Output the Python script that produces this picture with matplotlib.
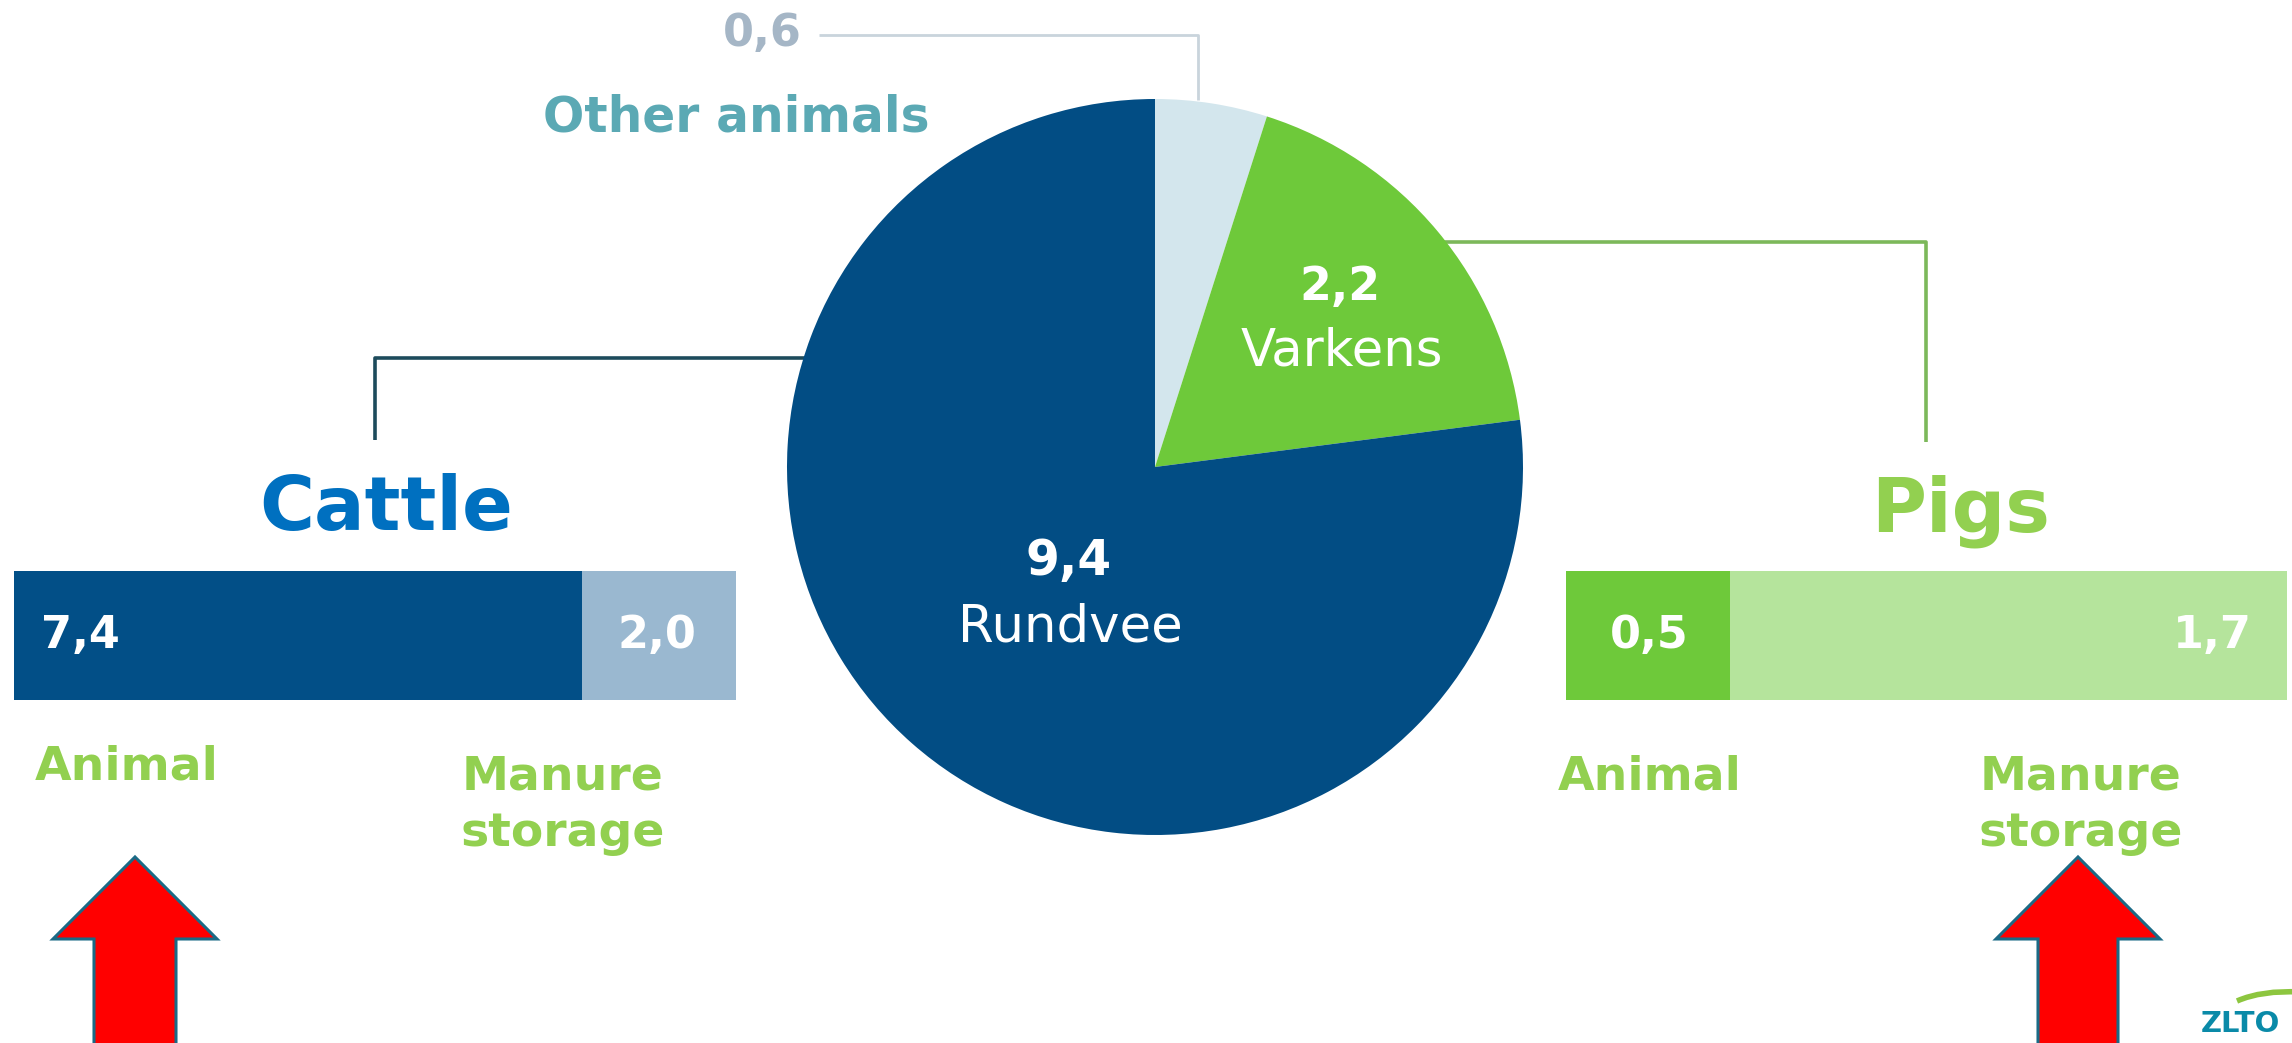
import matplotlib
matplotlib.use("Agg")
import matplotlib.pyplot as plt
from matplotlib.patches import Polygon, PathPatch
from matplotlib.path import Path

# ---------------- data ----------------
pie_names = ["Other animals", "Varkens", "Rundvee"]
pie_values = [0.6, 2.2, 9.4]
bar_categories = ["Animal", "Manure storage"]
cattle_values = [7.4, 2.0]
pigs_values = [0.5, 1.7]
group_titles = ["Cattle", "Pigs"]

W, H = 2292, 1043
DPI = 100

def fmt(v):
    return f"{v:.1f}".replace(".", ",")

def box(x0, y0, x1, y1):
    return [x0 / W, 1 - y1 / H, (x1 - x0) / W, (y1 - y0) / H]

fig = plt.figure(figsize=(W / DPI, H / DPI), dpi=DPI)
fig.patch.set_facecolor("white")

# background axes in pixel coordinates for connectors / annotations
bg = fig.add_axes([0, 0, 1, 1])
bg.set_xlim(0, W)
bg.set_ylim(H, 0)
bg.axis("off")

# connector lines
bg.plot([819, 1198, 1198], [35, 35, 100], color="#c9d4dc", lw=2.0, solid_capstyle="butt")
bg.plot([1440, 1926, 1926], [242, 242, 442], color="#7cb85a", lw=2.6, solid_capstyle="butt")
bg.plot([810, 375, 375], [358, 358, 440], color="#1d4b5c", lw=2.6, solid_capstyle="butt")

# ---------------- pie ----------------
pie_colors = ["#d3e6ed", "#6ec93a", "#024d84"]
pax = fig.add_axes(box(787, 99, 1523, 835))
pax.patch.set_alpha(0)
pax.pie(pie_values, colors=pie_colors, startangle=90, counterclock=False,
        radius=1.0, wedgeprops=dict(linewidth=0))
pax.set_xlim(-1, 1)
pax.set_ylim(-1, 1)
pax.set_aspect("equal")
pax.axis("off")

val_font = dict(family="DejaVu Sans", fontweight="bold", color="white")
name_font = dict(family="DejaVu Sans", color="white")
pax.text(0.503, 0.489, fmt(pie_values[1]), ha="center", va="center", fontsize=33, **val_font)
pax.text(0.508, 0.315, pie_names[1], ha="center", va="center", fontsize=37, **name_font)
pax.text(-0.234, -0.255, fmt(pie_values[2]), ha="center", va="center", fontsize=35, **val_font)
pax.text(-0.231, -0.4375, pie_names[2], ha="center", va="center", fontsize=37, **name_font)

# other animals value + label
bg.text(762, 33, fmt(pie_values[0]), ha="center", va="center", fontsize=32,
        fontweight="bold", color="#a5b6c6", family="DejaVu Sans")
bg.text(736, 117, pie_names[0], ha="center", va="center", fontsize=35,
        fontweight="bold", color="#5ba9b4", family="DejaVu Sans")

# ---------------- stacked bars ----------------
def stacked_bar(rect, values, colors, label_offsets):
    ax = fig.add_axes(rect)
    left = 0
    for v, c in zip(values, colors):
        ax.barh([0], [v], left=left, height=1.0, color=c, linewidth=0)
        left += v
    ax.set_xlim(0, sum(values))
    ax.set_ylim(-0.5, 0.5)
    ax.axis("off")
    ax.annotate(fmt(values[0]), xy=(0, 0), xytext=(label_offsets[0], 0),
                textcoords="offset pixels", ha="left", va="center",
                fontsize=32, fontweight="bold", color="white", family="DejaVu Sans")
    ax.annotate(fmt(values[1]), xy=(sum(values), 0), xytext=(-label_offsets[1], 0),
                textcoords="offset pixels", ha="right", va="center",
                fontsize=32, fontweight="bold", color="white", family="DejaVu Sans")
    return ax

stacked_bar(box(14, 571, 736, 700), cattle_values, ["#024f87", "#9ab8d0"], (27, 40))
stacked_bar(box(1566, 571, 2287, 700), pigs_values, ["#6ec93a", "#b5e49c"], (44, 35))

# titles
bg.text(386, 530, group_titles[0], ha="center", va="baseline", fontsize=54,
        fontweight="bold", color="#0070c0", family="DejaVu Sans")
bg.text(1961, 532, group_titles[1], ha="center", va="baseline", fontsize=54,
        fontweight="bold", color="#92d050", family="DejaVu Sans")

# category labels
lab = dict(fontsize=34, fontweight="bold", color="#92d050", family="DejaVu Sans", va="baseline")
manure_lines = bar_categories[1].split(" ")
bg.text(127, 779, bar_categories[0], ha="center", **lab)
bg.text(563, 789, manure_lines[0], ha="center", **lab)
bg.text(563, 846, manure_lines[1], ha="center", **lab)
bg.text(1650, 789, bar_categories[0], ha="center", **lab)
bg.text(2081, 789, manure_lines[0], ha="center", **lab)
bg.text(2081, 846, manure_lines[1], ha="center", **lab)

# red arrows
def up_arrow(xc, tip_y, base_y, head_half, shaft_half):
    pts = [(xc, tip_y), (xc + head_half, base_y), (xc + shaft_half, base_y),
           (xc + shaft_half, H + 10), (xc - shaft_half, H + 10),
           (xc - shaft_half, base_y), (xc - head_half, base_y)]
    bg.add_patch(Polygon(pts, closed=True, facecolor="#ff0000",
                         edgecolor="#1a6a86", lw=2.2, joinstyle="miter"))

up_arrow(135, 857, 939, 82, 41)
up_arrow(2078, 857, 939, 82, 40)

# logo
verts = [(2237, 1001), (2262, 990), (2300, 992)]
bg.add_patch(PathPatch(Path(verts, [Path.MOVETO, Path.CURVE3, Path.CURVE3]),
                       facecolor="none", edgecolor="#8dc63f", lw=4))
bg.text(2201, 1032, "ZLTO", ha="left", va="baseline", fontsize=21,
        fontweight="bold", color="#0a8aa8", family="DejaVu Sans")

fig.savefig("out.png", dpi=DPI)
